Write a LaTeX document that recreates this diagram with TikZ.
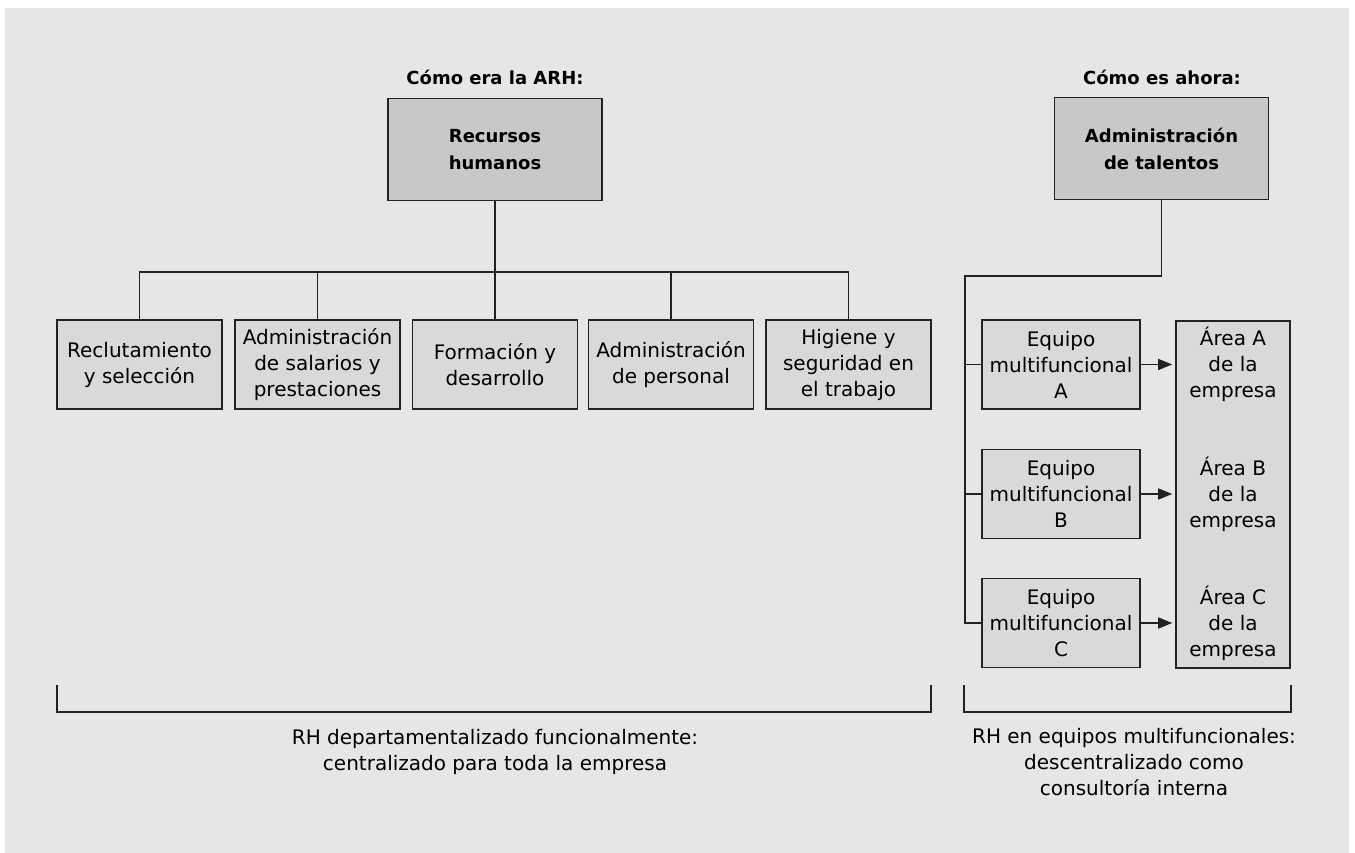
\documentclass[tikz,border=0pt]{standalone}
\usepackage{fontspec}
\setmainfont{DejaVu Sans}
\usetikzlibrary{arrows.meta}
\definecolor{bgc}{HTML}{E6E6E6}
\definecolor{topc}{HTML}{C8C8C8}
\definecolor{boxc}{HTML}{D9D9D9}
\definecolor{linec}{HTML}{222222}
\begin{document}
\begin{tikzpicture}[x=1pt,y=-1pt,
  every node/.style={font=\fontsize{20}{26}\selectfont, text=black, inner sep=0pt},
  topbox/.style={draw=linec, line width=1.6pt, fill=topc, minimum width=214pt, minimum height=102pt, align=center, font=\bfseries\fontsize{18}{27}\selectfont},
  rowbox/.style={draw=linec, line width=1.6pt, fill=boxc, minimum width=165pt, minimum height=89pt, align=center},
  teambox/.style={draw=linec, line width=1.6pt, fill=boxc, minimum width=158pt, minimum height=89pt, align=center},
  titletext/.style={font=\bfseries\fontsize{18}{22}\selectfont},
  plaintext/.style={align=center},
  conn/.style={draw=linec, line width=1.6pt},
  arr/.style={conn, -{Triangle[length=14pt,width=11pt]}, shorten >=3pt}
]
\useasboundingbox (0,0) rectangle (1355,853);
\fill[bgc] (5,8) rectangle (1349,853);

% Left: how it was
\node[titletext, anchor=base] (t1) at (495,85) {Cómo era la ARH:};
\node[topbox] (rh) at (495,149.5) {Recursos\\humanos};
\node[rowbox] (r1) at (139.5,364.5) {Reclutamiento\\y selección};
\node[rowbox] (r2) at (317.5,364.5) {Administración\\de salarios y\\prestaciones};
\node[rowbox] (r3) at (495,364.5) {Formación y\\desarrollo};
\node[rowbox] (r4) at (671,364.5) {Administración\\de personal};
\node[rowbox] (r5) at (848.5,364.5) {Higiene y\\seguridad en\\el trabajo};
\coordinate (bar) at (495,272);
\draw[conn] (rh.south) -- (bar);
\draw[conn] (r1.north) -- (r1.north |- bar) -- (r5.north |- bar) -- (r5.north);
\draw[conn] (r2.north) -- (r2.north |- bar);
\draw[conn] (r3.north) -- (r3.north |- bar);
\draw[conn] (r4.north) -- (r4.north |- bar);

% Right: how it is now
\node[titletext, anchor=base] (t2) at (1162,85) {Cómo es ahora:};
\node[topbox] (at) at (1161.5,148.5) {Administración\\de talentos};
\node[teambox] (eA) at (1061,364.5) {Equipo\\multifuncional\\A};
\node[teambox] (eB) at (1061,494) {Equipo\\multifuncional\\B};
\node[teambox] (eC) at (1061,623) {Equipo\\multifuncional\\C};
\node[draw=linec, line width=1.6pt, fill=boxc, minimum width=114pt, minimum height=347pt] (area) at (1233,494.5) {};
\node[plaintext] (aA) at (area.center |- eA.center) {Área A\\de la\\empresa};
\node[plaintext] (aB) at (area.center |- eB.center) {Área B\\de la\\empresa};
\node[plaintext] (aC) at (area.center |- eC.center) {Área C\\de la\\empresa};
\coordinate (jog) at (965,276);
\draw[conn] (at.south) |- (jog) -- (jog |- eC.west) -- (eC.west);
\draw[conn] (jog |- eA.west) -- (eA.west);
\draw[conn] (jog |- eB.west) -- (eB.west);
\draw[arr] (eA.east) -- (eA.east -| area.west);
\draw[arr] (eB.east) -- (eB.east -| area.west);
\draw[arr] (eC.east) -- (eC.east -| area.west);

% Brackets
\coordinate (lbA) at (57,685);
\coordinate (lbB) at (931,685);
\coordinate (rbA) at (964,685);
\coordinate (rbB) at (1291,685);
\draw[conn, line width=1.2pt] (lbA) -- ++(0,27) -| (lbB);
\draw[conn, line width=1.2pt] (rbA) -- ++(0,27) -| (rbB);
\node[plaintext, anchor=north] (lt) at (495,729) {RH departamentalizado funcionalmente:\\centralizado para toda la empresa};
\node[plaintext, anchor=north] (rt) at (1134,728) {RH en equipos multifuncionales:\\descentralizado como\\consultoría interna};
\end{tikzpicture}
\end{document}
